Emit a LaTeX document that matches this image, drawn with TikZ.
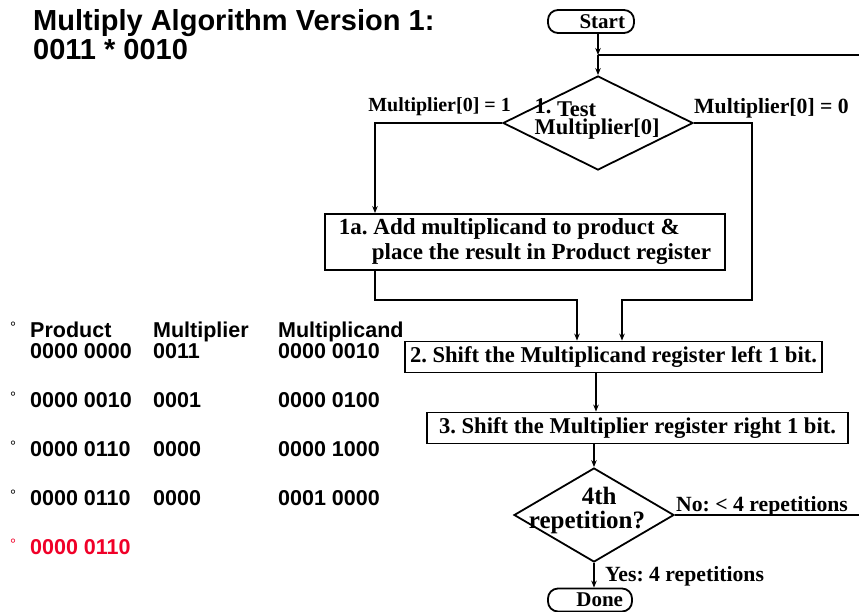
\documentclass[tikz,border=0pt]{standalone}
\usepackage{fontspec}
\setmainfont{Liberation Serif}
\newfontfamily\arialfont{Liberation Sans}
\usetikzlibrary{shapes,arrows.meta,positioning,calc}
\definecolor{resred}{RGB}{240,0,40}
\frenchspacing

\begin{document}
\begin{tikzpicture}[x=1pt, y=-1pt,
    box/.style={rectangle, draw, line width=1.8pt, minimum height=31pt, inner sep=0pt, font=\fontsize{22.6}{25}\selectfont\bfseries},
    term/.style={rectangle, rounded corners=10pt, draw, line width=1.8pt, minimum height=23pt, text width=68pt, inner xsep=9pt, inner ysep=0pt, align=right, font=\fontsize{21}{22}\selectfont\bfseries},
    dec/.style={diamond, draw, line width=1.8pt, inner sep=0pt},
    dectxt/.style={inner sep=0pt, font=\fontsize{22.5}{18}\selectfont\bfseries},
    arr/.style={-{Stealth[length=7pt,width=5.5pt]}, line width=1.6pt},
    ln/.style={line width=1.6pt},
    lbl/.style={inner sep=0pt, font=\fontsize{21.7}{22}\selectfont\bfseries},
    tbl/.style={inner sep=0pt, anchor=base west, font=\arialfont\fontsize{21.5}{22}\selectfont\bfseries},
    blt/.style={inner sep=0pt, anchor=base west, font=\arialfont\fontsize{15}{15}\selectfont}
]
\useasboundingbox (0,0) rectangle (859,611);

% Title
\node[inner sep=0pt, anchor=base west, font=\arialfont\fontsize{29}{30}\selectfont\bfseries] (title1) at (33,30) {Multiply Algorithm Version 1:};
\node[inner sep=0pt, anchor=base west, font=\arialfont\fontsize{29}{30}\selectfont\bfseries] (title2) at (33,59) {0011 * 0010};

% Flowchart
\node[term] (start) at (591,21.5) {Start};
\coordinate (jn) at (598,55);
\node[dec, minimum width=190pt, minimum height=94pt] (d1) at (598,123) {};
\node[dectxt, align=left] (d1txt) at (597,119) {\raisebox{3pt}{1.} Test\\Multiplier[0]};
\node[box, minimum width=400pt, minimum height=56pt, align=left, font=\fontsize{23}{25}\selectfont\bfseries] (s1a) at (525,242) {1a. Add multiplicand to product \&\\\hspace*{33pt}place the result in Product register};
\node[box, minimum width=417pt] (s2) at (613.5,357) {2. Shift the Multiplicand register left 1 bit.};
\node[box, minimum width=421pt] (s3) at (637.5,428) {3. Shift the Multiplier register right 1 bit.};
\node[dec, minimum width=160pt, minimum height=94pt] (d2) at (594,515) {};
\node[dectxt, align=left, font=\fontsize{25}{24}\selectfont\bfseries] (d2txt) at (587,510) {\hspace*{53pt}4th\\repetition?};
\node[term, text width=66pt] (done) at (590,600) {Done};

% Branch labels
\node[lbl, anchor=base east, font=\fontsize{20}{20}\selectfont\bfseries] (m1) at (511,111) {Multiplier[0] = 1};
\node[lbl, anchor=base west] (m0) at (694,113) {Multiplier[0] = 0};
\node[lbl, anchor=base west] (no) at (676,511) {No: < 4 repetitions};
\node[lbl, anchor=base west] (yes) at (605,581) {Yes: 4 repetitions};

% Columns for the branch lines
\coordinate (lx) at (375,300);
\coordinate (rx) at (752,300);
\coordinate (ax) at (577,0);
\coordinate (bx) at (622,0);
\coordinate (ex) at (872,0);

% Connectors
\draw[arr] (start.south -| jn) -- (jn);
\draw[arr] (jn) -- (d1.north);
\draw[arr] (d1.west) -| (lx |- s1a.north);
\draw[arr] (lx |- s1a.south) -- (lx) -| (ax |- s2.north);
\draw[arr] (d1.east) -| (rx) -| (bx |- s2.north);
\draw[arr] (s2.south -| 596,0) -- (s3.north -| 596,0);
\draw[arr] (s3.south -| d2.north) -- (d2.north);
\draw[arr] (d2.south) -- (done.north -| d2.south);
\draw[ln] (d2.east) -- (ex |- d2.east) -- (ex |- jn) -- (jn);

% Table
\foreach \y/\p/\q/\r [count=\i] in {407/0000 0010/0001/0000 0100, 456/0000 0110/0000/0000 1000, 505/0000 0110/0000/0001 0000}{
  \node[blt] (b\i) at (10,\y-5) {°};
  \node[tbl] (p\i) at (30,\y) {\p};
  \node[tbl] (q\i) at (153,\y) {\q};
  \node[tbl] (r\i) at (278,\y) {\r};
}
\node[blt] (b0) at (10,332) {°};
\node[tbl] (hp) at (30,337) {Product};
\node[tbl] (hq) at (153,337) {Multiplier};
\node[tbl] (hr) at (278,337) {Multiplicand};
\node[tbl] (p0) at (30,358) {0000 0000};
\node[tbl] (q0) at (153,358) {0011};
\node[tbl] (r0) at (278,358) {0000 0010};
\node[blt, text=resred] (b4) at (10,549) {°};
\node[tbl, text=resred] (p4) at (30,554) {0000 0110};
\end{tikzpicture}
\end{document}
